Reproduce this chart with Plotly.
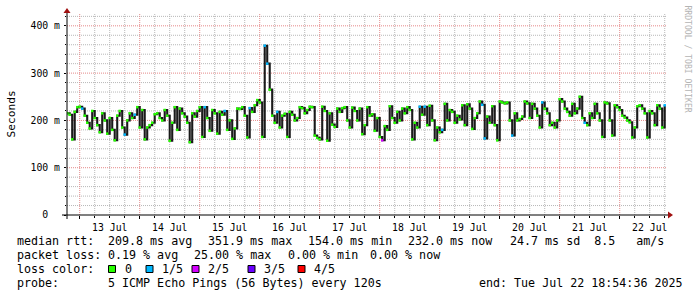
import plotly.graph_objects as go
import pandas as pd

# ---------------- data ----------------
start_time = "2025-07-12 19:00"
range_start = "2025-07-12 18:54:36"
range_end = "2025-07-22 18:54:36"

median_ms = [
    215, 212, 160, 218, 228, 229, 225, 210, 195, 183,
    220, 205, 190, 175, 215, 200, 172, 205, 180, 158,
    210, 220, 185, 170, 200, 215, 205, 212, 228, 185,
    222, 160, 185, 190, 195, 213, 215, 205, 200, 222,
    210,
    157, 195, 228, 180, 225, 215, 208, 195, 154, 215,
    208, 220, 228, 165, 228, 205, 178, 222, 215, 172,
    218, 212, 220, 180, 200, 161, 183, 225, 224, 228,
    210, 164, 226, 218, 232, 243, 238, 165, 358, 320,
    265, 210,
    195, 218, 185, 210, 214, 165, 218, 212, 200, 205,
    228, 226, 215, 222, 229, 228, 168, 163, 160, 229,
    220, 157, 215, 191, 186, 225, 218, 226, 228, 200,
    185, 227, 220, 200, 225, 171, 190, 228,
    210, 213, 178, 205, 165, 158, 188, 180, 230, 205,
    195, 218, 200, 225, 215, 228, 222, 160, 195, 185,
    229, 212, 229, 190, 231, 200, 158, 185, 175, 180,
    235, 200, 222, 218, 195, 210, 202, 232, 190, 234,
    225, 182, 205, 215, 240, 233, 162, 208, 195, 230,
    190, 158, 240, 238, 236, 238, 200, 168, 215, 200,
    203, 208, 240, 236, 205, 235, 225, 210, 185, 238,
    225, 215, 190, 195, 185, 200, 245, 240, 225, 218,
    210, 235, 215, 225, 250, 205, 195, 190, 215, 205,
    235, 215, 200, 165, 238, 236, 200, 168, 232, 228,
    222, 210, 206, 200, 196, 164, 185, 230, 232, 225,
    215, 164, 220, 215, 190, 232, 225, 185, 232,
]

# lost pings (out of 5) at given sample index; all others 0
loss_steps = {6: 1, 23: 1, 27: 1, 55: 1, 63: 1, 73: 1, 79: 1, 80: 1, 84: 1,
              126: 2, 141: 1, 143: 1, 150: 1, 166: 1, 167: 1, 178: 1,
              190: 1, 207: 1, 239: 1}

loss_colors = ["#26ff00", "#00b8ff", "#d400ff", "#6a00ff", "#ff0000"]
loss_labels = ["0", "1/5", "2/5", "3/5", "4/5"]

y_major_step = 100
y_minor_step = 20
y_max = 425
x_grid_first = "2025-07-13 00:00"   # first midnight
x_minor_hours = 6

line1 = ["median rtt:", "209.8 ms avg", "351.9 ms max", "154.0 ms min",
         "232.0 ms now", "24.7 ms sd  8.5   am/s"]
line2 = ["packet loss:", "0.19 % avg", "25.00 % max", "0.00 % min", "0.00 % now"]
line3_head = "loss color:"
line4 = ["probe:", "5 ICMP Echo Pings (56 Bytes) every 120s",
         "end: Tue Jul 22 18:54:36 2025"]

# ---------------- layout geometry ----------------
W, H = 697, 297
L, R, T, B = 67, 30, 14, 82
PW, PH = W - L - R, H - T - B
MONO = "DejaVu Sans Mono"


def px(xp):
    return (xp - L) / PW


def py(yp):
    return (H - B - yp) / PH


times = pd.date_range(start_time, periods=len(median_ms), freq="h")
marker_colors = [loss_colors[loss_steps.get(i, 0)] for i in range(len(median_ms))]

fig = go.Figure()
fig.add_trace(go.Scatter(
    x=times, y=median_ms, mode="lines",
    line=dict(color="#1a1a1a", width=2.1, shape="hv"),
    hoverinfo="skip", showlegend=False))
fig.add_trace(go.Scatter(
    x=times, y=median_ms, mode="markers",
    marker=dict(symbol="square", size=2.5, color=marker_colors, line=dict(width=0)),
    hoverinfo="skip", showlegend=False))

fig.update_layout(
    width=W, height=H,
    margin=dict(l=L, r=R, t=T, b=B, pad=0),
    paper_bgcolor="white", plot_bgcolor="white",
    font=dict(family=MONO, color="black"),
    xaxis=dict(
        type="date", range=[range_start, range_end],
        dtick=86400000, tick0="2025-07-13",
        ticklabelmode="period", tickformat="%d %b",
        tickfont=dict(family=MONO, size=9.8, color="black"),
        showgrid=False,
        ticks="outside", ticklen=3, tickcolor="black",
        showline=False, zeroline=False,
        minor=dict(dtick=x_minor_hours * 3600000, showgrid=False,
                   ticks="outside", ticklen=2, tickcolor="black"),
    ),
    yaxis=dict(
        range=[0, y_max], tickmode="linear", tick0=0, dtick=y_major_step,
        ticksuffix=" m", labelalias={"0 m": "0\u00a0\u00a0"},
        tickfont=dict(family=MONO, size=9.8, color="black"),
        showgrid=False, ticklabelstandoff=2,
        ticks="outside", ticklen=2, tickcolor="black",
        showline=False, zeroline=False,
        minor=dict(dtick=y_minor_step, tick0=0, showgrid=False,
                   ticks="outside", ticklen=1, tickcolor="black"),
    ),
)

grid_major = "#e58a8a"
grid_minor = "#b8b8b8"
grid_dash = "1px,1px"

shapes = []
# grid (drawn below the data)
for v in range(y_minor_step, y_max, y_minor_step):
    col = grid_major if v % y_major_step == 0 else grid_minor
    shapes.append(dict(type="line", xref="paper", yref="y", layer="below",
                       x0=0, x1=1, y0=v, y1=v,
                       line=dict(color=col, width=1, dash=grid_dash)))
x_grid = pd.date_range(pd.Timestamp(x_grid_first) - pd.Timedelta(hours=x_minor_hours),
                       range_end, freq=f"{x_minor_hours}h")
for t in x_grid:
    if t < pd.Timestamp(range_start):
        continue
    col = grid_major if t.hour == 0 else grid_minor
    shapes.append(dict(type="line", xref="x", yref="paper", layer="below",
                       x0=t, x1=t, y0=0, y1=1,
                       line=dict(color=col, width=1, dash=grid_dash)))
# axes
shapes.append(dict(type="line", xref="paper", yref="paper",
                   x0=px(62), x1=px(668), y0=py(215), y1=py(215),
                   line=dict(color="black", width=1)))
shapes.append(dict(type="line", xref="paper", yref="paper",
                   x0=px(67), x1=px(67), y0=py(219), y1=py(12),
                   line=dict(color="black", width=1)))
# arrows
arrow_col = "#a01010"
shapes.append(dict(type="path", xref="paper", yref="paper",
                   path=f"M {px(668)},{py(211.5)} L {px(673)},{py(215)} L {px(668)},{py(218.5)} Z",
                   fillcolor=arrow_col, line=dict(width=0)))
shapes.append(dict(type="path", xref="paper", yref="paper",
                   path=f"M {px(63.5)},{py(13)} L {px(67)},{py(8)} L {px(70.5)},{py(13)} Z",
                   fillcolor=arrow_col, line=dict(width=0)))

# loss color squares
sq_x = [108.5, 146, 192, 248, 298]
lab_x = [124.3, 160.7, 206.7, 262.7, 312.7]
for xs, col in zip(sq_x, loss_colors):
    shapes.append(dict(type="rect", xref="paper", yref="paper",
                       x0=px(xs), x1=px(xs + 7), y0=py(265.5), y1=py(272.5),
                       fillcolor=col, line=dict(color="black", width=1)))
fig.update_layout(shapes=shapes)

ann = []


def text(xp, yp, s, size=11.66, color="black", angle=0, xanchor="left"):
    ann.append(dict(xref="paper", yref="paper", x=px(xp), y=py(yp), text=s,
                    showarrow=False, xanchor=xanchor, yanchor="middle",
                    textangle=angle, borderpad=0,
                    font=dict(family=MONO, size=size, color=color)))


x1 = [16, 107.3, 207.3, 307.3, 407.3, 509]
for xp, s in zip(x1, line1):
    text(xp, 241, s)
x2 = [16, 107.3, 193.3, 286.7, 369.3]
for xp, s in zip(x2, line2):
    text(xp, 255, s)
text(16, 269, line3_head)
for xp, s in zip(lab_x, loss_labels):
    text(xp, 269, s)
x4 = [16, 107.3, 478.3]
for xp, s in zip(x4, line4):
    text(xp, 283, s)

# y-axis title and watermark
text(11, 114.5, "Seconds", size=11.2, angle=-90, xanchor="center")
text(687.5, 59, "RRDTOOL / TOBI OETIKER", size=8.1, color="#b4b4b4",
     angle=90, xanchor="center")

fig.update_layout(annotations=ann)

fig.write_html("out.html")
